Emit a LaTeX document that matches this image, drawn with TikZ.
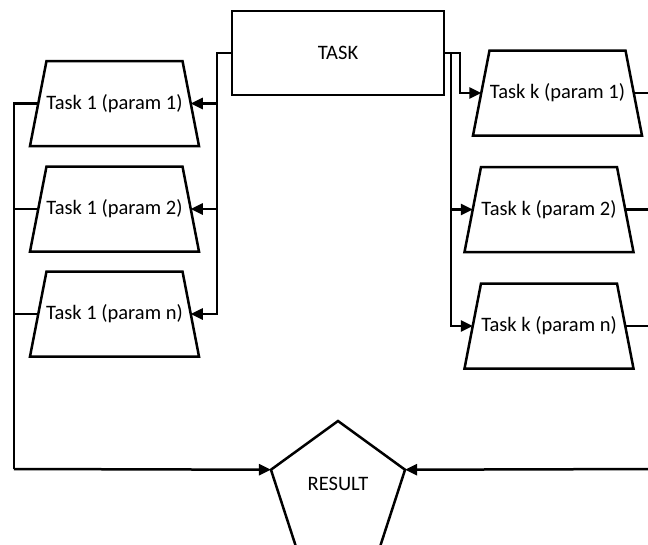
\documentclass[tikz,border=0pt]{standalone}
\usepackage{fontspec}
\setmainfont{Carlito}
\usetikzlibrary{shapes.geometric,arrows.meta}

\tikzset{
  line/.style={line width=2.5pt, draw=black},
  flow/.style={line, -{Triangle[length=12pt,width=11pt]}},
  outline/.style={line width=2.5pt, draw=black, fill=white, line join=miter},
  taskbox/.style={outline, minimum width=212pt, minimum height=84pt, inner sep=0pt},
  jobtext/.style={inner sep=0pt},
  result/.style={outline, regular polygon, regular polygon sides=5,
    minimum size=141pt, inner sep=0pt, outer sep=0pt},
}

% a job: trapezoid outline, its text node and the two side anchors
\newcommand\jobnode[4]{%
  \draw[outline] (#2-68,#3-42.5) -- (#2+68,#3-42.5) -- (#2+84.5,#3+42.5)
    -- (#2-84.5,#3+42.5) -- cycle;
  \node[jobtext] (#1) at (#2,#3) {#4};
  \coordinate (#1-w) at (#2-76.25,#3);
  \coordinate (#1-e) at (#2+76.25,#3);
}

\begin{document}
\begin{tikzpicture}[x=1pt, y=-1pt, font=\fontsize{20.5}{24}\selectfont]
\useasboundingbox (0,0) rectangle (648,544);
\clip (0,0) rectangle (648,544);

% main task
\node[taskbox] (task) at (338,53) {TASK};

% parameter variants of task 1
\jobnode{t11}{114.5}{103.5}{Task 1 (param 1)}
\jobnode{t12}{114.5}{209}{Task 1 (param 2)}
\jobnode{t1n}{114.5}{314}{Task 1 (param n)}

% parameter variants of task k
\jobnode{tk1}{557.5}{93}{Task k (param 1)}
\jobnode{tk2}{549}{209.5}{Task k (param 2)}
\jobnode{tkn}{549}{326}{Task k (param n)}

% result
\node[result, label={[yshift=7.5pt]center:RESULT}] (res) at (338,491.5) {};

% junction points
\coordinate (lj) at (217,53);
\coordinate (ra) at (460,53);
\coordinate (rb) at (451,53);
\coordinate (lc) at (14,469);
\coordinate (rc) at (660,469);

% task to task 1 variants
\draw[flow] (task.west) -- (lj) |- (t11-e);
\draw[flow] (lj) |- (t12-e);
\draw[flow] (lj) |- (t1n-e);

% task to task k variants
\draw[flow] (task.east) -- (ra) |- (tk1-w);
\draw[line] (task.east) -- (rb);
\draw[flow] (rb) |- (tk2-w);
\draw[flow] (rb) |- (tkn-w);

% task 1 variants to result
\draw[line] (t11-w) -| (lc);
\draw[line] (t12-w) -- (t12-w -| lc);
\draw[line] (t1n-w) -- (t1n-w -| lc);
\draw[flow] (lc) -- (res.corner 2);

% task k variants to result
\draw[line] (tk1-e) -| (rc);
\draw[line] (tk2-e) -- (tk2-e -| rc);
\draw[line] (tkn-e) -- (tkn-e -| rc);
\draw[flow] (rc) -- (res.corner 5);
\end{tikzpicture}
\end{document}
